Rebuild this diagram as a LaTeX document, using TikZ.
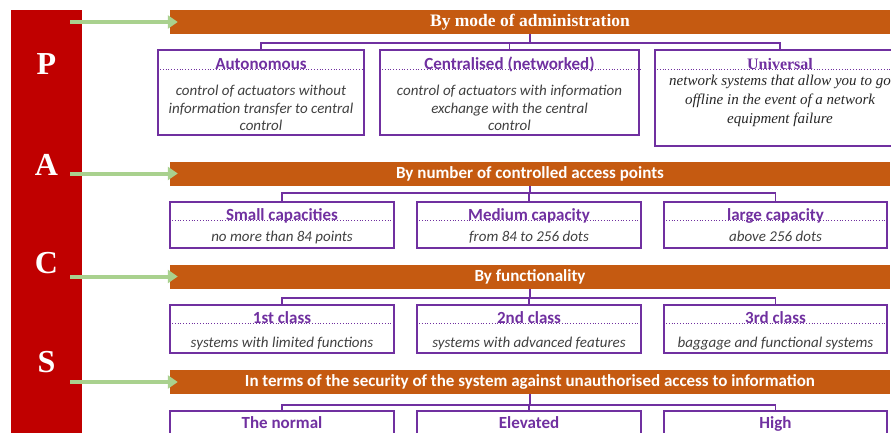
\documentclass[tikz,border=0pt]{standalone}
\usepackage{fontspec}
\setmainfont{Carlito}
\newfontfamily\serifface{Liberation Serif}
\usepackage{tikz}
\usetikzlibrary{arrows.meta,positioning}
\definecolor{pacsred}{HTML}{C00000}
\definecolor{barorange}{HTML}{C55A11}
\definecolor{boxpurple}{HTML}{7030A0}
\definecolor{arrowgreen}{HTML}{A9D18E}
\definecolor{bodygray}{HTML}{404040}

\begin{document}
\begin{tikzpicture}[x=1pt,y=-1pt]
\tikzstyle{bar}=[fill=barorange,text=white,font=\bfseries\fontsize{17}{20}\selectfont,minimum width=720pt,minimum height=24pt,inner sep=0pt];
\tikzstyle{box}=[draw=boxpurple,line width=1.5pt,inner sep=0pt,minimum height=46pt];
\tikzstyle{title}=[text=boxpurple,font=\bfseries\fontsize{17}{20}\selectfont,inner sep=0pt,anchor=base];
\tikzstyle{body}=[text=bodygray,font=\itshape\fontsize{15}{17.5}\selectfont,align=center,inner sep=0pt];
\tikzstyle{dots}=[draw=boxpurple,dotted,line width=0.8pt];
\tikzstyle{link}=[draw=boxpurple,line width=1.5pt];
\tikzstyle{arrow}=[-{Triangle[length=10pt,width=13pt]},line width=4pt,arrowgreen];
\tikzstyle{letter}=[text=white,font=\serifface\bfseries\fontsize{32}{32}\selectfont];
\useasboundingbox (0,0) rectangle (891,432);

\node (pacs) [fill=pacsred,anchor=north west,minimum width=71pt,minimum height=440pt,inner sep=0pt] at (11,10) {};
\node (P) [letter] at (46.5,64) {P};
\node (A) [letter] at (46.5,165) {A};
\node (C) [letter] at (46.5,263) {C};
\node (S) [letter] at (46.5,362) {S};

\node (bar1) [bar,font=\serifface\bfseries\fontsize{17.5}{20}\selectfont] at (530,22) {By mode of administration};
\node (bar2) [bar] at (530,173.5) {By number of controlled access points};
\node (bar3) [bar] at (530,276.5) {By functionality};
\node (bar4) [bar] at (530,382) {In terms of the security of the system against unauthorised access to information};

\draw [arrow] ([xshift=-12pt]pacs.east |- bar1) -- ([xshift=8pt]bar1.west);
\draw [arrow] ([xshift=-12pt]pacs.east |- bar2) -- ([xshift=8pt]bar2.west);
\draw [arrow] ([xshift=-12pt]pacs.east |- bar3) -- ([xshift=8pt]bar3.west);
\draw [arrow] ([xshift=-12pt]pacs.east |- bar4) -- ([xshift=8pt]bar4.west);

\node (11) [box,minimum width=206pt,minimum height=85pt] at (261,92.5) {};
\node (12) [box,minimum width=259pt,minimum height=85pt] at (509.5,92.5) {};
\node (13) [box,minimum width=250pt,minimum height=96pt] at (780,98) {};
\node (t11) [title] at ([yshift=-20pt]11.north) {Autonomous};
\node (t12) [title] at ([yshift=-20pt]12.north) {Centralised (networked)};
\node (t13) [title,font=\serifface\bfseries\fontsize{16}{20}\selectfont] at ([yshift=-20pt]13.north) {Universal};
\draw [dots] (11.west |- t11.base) -- (11.east |- t11.base);
\draw [dots] (12.west |- t12.base) -- (12.east |- t12.base);
\draw [dots] (13.west |- t13.base) -- (13.east |- t13.base);
\node (d11) [body,below=16pt of t11.base] {control of actuators without\\information transfer to central\\control};
\node (d12) [body,below=16pt of t12.base] {control of actuators with information\\exchange with the central\\control};
\node (d13) [body,font=\serifface\itshape\fontsize{15}{19}\selectfont,text=black!85,below=6pt of t13.base] {network systems that allow you to go\\offline in the event of a network\\equipment failure};

\node (21) [box,minimum width=224pt] at (282,225) {};
\node (22) [box,minimum width=224pt] at (529,225) {};
\node (23) [box,minimum width=223pt] at (775.5,225) {};
\node (t21) [title] at ([yshift=-19pt]21.north) {Small capacities};
\node (t22) [title] at ([yshift=-19pt]22.north) {Medium capacity};
\node (t23) [title] at ([yshift=-19pt]23.north) {large capacity};
\draw [dots] (21.west |- t21.base) -- (21.east |- t21.base);
\draw [dots] (22.west |- t22.base) -- (22.east |- t22.base);
\draw [dots] (23.west |- t23.base) -- (23.east |- t23.base);
\node (d21) [body,below=11pt of t21.base] {no more than 84 points};
\node (d22) [body,below=11pt of t22.base] {from 84 to 256 dots};
\node (d23) [body,below=11pt of t23.base] {above 256 dots};

\node (31) [box,minimum width=224pt,minimum height=48pt] at (282,329) {};
\node (32) [box,minimum width=224pt,minimum height=48pt] at (529,329) {};
\node (33) [box,minimum width=223pt,minimum height=48pt] at (775.5,329) {};
\node (t31) [title] at ([yshift=-19pt]31.north) {1st class};
\node (t32) [title] at ([yshift=-19pt]32.north) {2nd class};
\node (t33) [title] at ([yshift=-19pt]33.north) {3rd class};
\draw [dots] (31.west |- t31.base) -- (31.east |- t31.base);
\draw [dots] (32.west |- t32.base) -- (32.east |- t32.base);
\draw [dots] (33.west |- t33.base) -- (33.east |- t33.base);
\node (d31) [body,below=14pt of t31.base] {systems with limited functions};
\node (d32) [body,below=14pt of t32.base] {systems with advanced features};
\node (d33) [body,below=14pt of t33.base] {baggage and functional systems};

\node (41) [box,minimum width=224pt,minimum height=48pt] at (282,435) {};
\node (42) [box,minimum width=224pt,minimum height=48pt] at (529,435) {};
\node (43) [box,minimum width=223pt,minimum height=48pt] at (775.5,435) {};
\node (t41) [title] at ([yshift=-18pt]41.north) {The normal};
\node (t42) [title] at ([yshift=-18pt]42.north) {Elevated};
\node (t43) [title] at ([yshift=-18pt]43.north) {High};

\coordinate (j1) at (530,43);
\coordinate (j2) at (530,193);
\coordinate (j3) at (530,298);
\coordinate (j4) at (530,405);
\draw [link] (bar1.south) -- (j1) -| (11.north);
\draw [link] (j1) -| (12.north);
\draw [link] (j1) -| (13.north);
\draw [link] (bar2.south) -- (j2) -| (21.north);
\draw [link] (j2) -| (22.north);
\draw [link] (j2) -| (23.north);
\draw [link] (bar3.south) -- (j3) -| (31.north);
\draw [link] (j3) -| (32.north);
\draw [link] (j3) -| (33.north);
\draw [link] (bar4.south) -- (j4) -| (41.north);
\draw [link] (j4) -| (42.north);
\draw [link] (j4) -| (43.north);
\end{tikzpicture}
\end{document}
